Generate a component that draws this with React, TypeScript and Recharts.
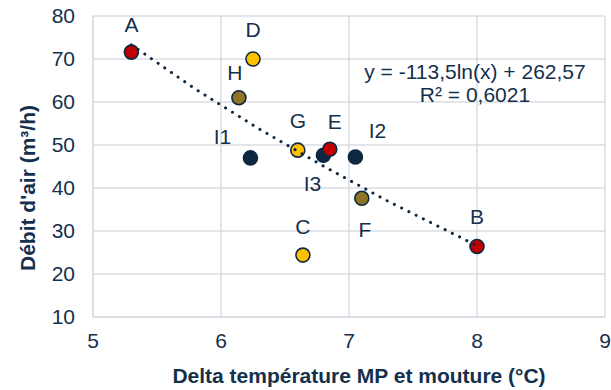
import { ScatterChart, Scatter, XAxis, YAxis, CartesianGrid } from 'recharts';

// Measured points (delta température °C, débit d'air m³/h)
const pointNames = ['A', 'B', 'C', 'D', 'E', 'F', 'G', 'H', 'I1', 'I2', 'I3'];
const deltaTemp = [5.3, 8.0, 6.64, 6.25, 6.85, 7.1, 6.6, 6.14, 6.23, 7.05, 6.8];
const debitAir = [71.6, 26.4, 24.4, 70, 49, 37.6, 48.8, 61, 47, 47.2, 47.6];
const pointGroup = ['red', 'red', 'gold', 'gold', 'red', 'olive', 'gold', 'olive', 'navy', 'navy', 'navy'];

// Logarithmic trendline
const trendX = [5.3, 5.8, 6.3, 6.8, 7.3, 8.0];
const trendY = [73.3, 63.0, 53.7, 45.1, 37.0, 26.6];

const xTicks = [5, 6, 7, 8, 9];
const yTicks = [10, 20, 30, 40, 50, 60, 70, 80];

const NAVY = '#0E2841';
const TEXT = '#14304C';
const GRID = '#D9DDE3';
const FONT = '"Liberation Sans", Arial, sans-serif';
const FS = 21;

const COLORS: Record<string, string> = {
  red: '#C00000',
  gold: '#FFC000',
  olive: '#8E7424',
  navy: NAVY,
};

// label offset from the marker centre
const LABEL_OFFSET: Record<string, [number, number]> = {
  A: [0, -28],
  B: [0, -30],
  C: [0, -29],
  D: [0, -30],
  E: [5, -28],
  F: [3, 31],
  G: [0, -30],
  H: [-4, -25],
  I1: [-28, -21],
  I2: [22, -27],
  I3: [-11, 28],
};

const points = pointNames.map((name, i) => ({
  name,
  x: deltaTemp[i],
  y: debitAir[i],
  group: pointGroup[i],
}));

const trend = trendX.map((x, i) => ({ x, y: trendY[i] }));

const groupOrder = ['navy', 'olive', 'gold', 'red'];

function makeShape(group: string) {
  return (props: any) => {
    const { cx, cy, payload } = props;
    const off = LABEL_OFFSET[payload.name] || [0, -28];
    return (
      <g>
        <circle
          cx={cx}
          cy={cy}
          r={7}
          fill={COLORS[group]}
          stroke={NAVY}
          strokeWidth={1.6}
        />
        <text
          x={cx + off[0]}
          y={cy + off[1]}
          textAnchor="middle"
          dominantBaseline="central"
          fontFamily={FONT}
          fontSize={FS}
          fill={TEXT}
        >
          {payload.name}
        </text>
      </g>
    );
  };
}

const XTitle = () => (
  <text
    x={359}
    y={375}
    textAnchor="middle"
    dominantBaseline="central"
    fontFamily={FONT}
    fontSize={FS}
    fontWeight="bold"
    fill={TEXT}
  >
    Delta température MP et mouture (°C)
  </text>
);

const YTitle = () => (
  <text
    transform="translate(27,188) rotate(-90)"
    textAnchor="middle"
    dominantBaseline="central"
    fontFamily={FONT}
    fontSize={FS}
    fontWeight="bold"
    fill={TEXT}
  >
    Débit d'air (m³/h)
  </text>
);

export default function App() {
  return (
    <div style={{ position: 'absolute', left: 0, top: 0, width: 611, height: 390, background: '#fff' }}>
      <ScatterChart width={611} height={390} margin={{ top: 16, right: 6, bottom: 0, left: 0 }}>
        <CartesianGrid stroke={GRID} strokeWidth={1.5} />
        <XAxis
          type="number"
          dataKey="x"
          domain={[5, 9]}
          ticks={xTicks}
          height={73}
          axisLine={{ stroke: GRID, strokeWidth: 1.5 }}
          tickLine={false}
          tickSize={0}
          tickMargin={16}
          tick={{ fill: TEXT, fontSize: FS, fontFamily: FONT }}
          label={{ content: () => <XTitle /> }}
        />
        <YAxis
          type="number"
          dataKey="y"
          domain={[10, 80]}
          ticks={yTicks}
          width={93}
          axisLine={{ stroke: GRID, strokeWidth: 1.5 }}
          tickLine={false}
          tickSize={0}
          tickMargin={18}
          tick={{ fill: TEXT, fontSize: FS, fontFamily: FONT }}
          label={{ content: () => <YTitle /> }}
        />
        {groupOrder.map((g) => (
          <Scatter
            key={g}
            data={points.filter((p) => p.group === g)}
            shape={makeShape(g)}
            isAnimationActive={false}
          />
        ))}
        <Scatter
          data={trend}
          line={{ stroke: NAVY, strokeWidth: 3, strokeDasharray: '0.1 8', strokeLinecap: 'round' }}
          shape={() => <g />}
          isAnimationActive={false}
        />
      </ScatterChart>
      <div
        style={{
          position: 'absolute',
          left: 325,
          top: 60,
          width: 300,
          textAlign: 'center',
          fontFamily: FONT,
          fontSize: FS,
          lineHeight: '23px',
          color: TEXT,
        }}
      >
        y = -113,5ln(x) + 262,57
        <br />
        R² = 0,6021
      </div>
    </div>
  );
}
